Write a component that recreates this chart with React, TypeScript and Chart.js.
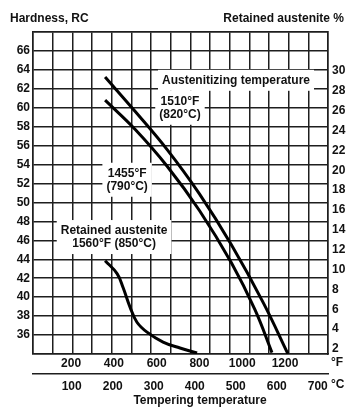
import React, { useEffect, useRef } from 'react';
import { Chart, registerables } from 'chart.js';

Chart.register(...registerables);

// Austenitized at 1510°F (820°C): tempering temperature (°F) vs hardness (HRC)
const tempF1510 = [359, 500, 650, 800, 950, 1100, 1214];
const hardness1510 = [63.25, 59.6, 55.55, 50.9, 45.5, 39.35, 34.0];

// Austenitized at 1455°F (790°C)
const tempF1455 = [359, 500, 650, 800, 950, 1060, 1139];
const hardness1455 = [60.8, 57.7, 53.8, 49.15, 43.6, 38.65, 34.15];

// Retained austenite (%) after 1560°F (850°C)
const tempFRetained = [359, 415, 443, 476, 508, 555, 630, 709, 789];
const retainedAustenite = [10.9, 9.6, 8.2, 6.2, 4.7, 3.7, 2.7, 2.1, 1.6];

// Tick labels
const hardnessTicks = [36, 38, 40, 42, 44, 46, 48, 50, 52, 54, 56, 58, 60, 62, 64, 66];
const austeniteTicks = [2, 4, 6, 8, 10, 12, 14, 16, 18, 20, 22, 24, 26, 28, 30];
const fahrenheitTicks = [200, 400, 600, 800, 1000, 1200];
const celsiusTicks = [100, 200, 300, 400, 500, 600, 700];

const annotationLabels = [
  { lines: ['Austenitizing temperature'], tempF: 971, hardness: 62.9 },
  { lines: ['1510°F', '(820°C)'], tempF: 709, hardness: 60.0 },
  { lines: ['1455°F', '(790°C)'], tempF: 462, hardness: 52.4 },
  { lines: ['Retained austenite', '1560°F (850°C)'], tempF: 401, hardness: 46.35 },
];

const FONT = '"Liberation Sans", Arial, Helvetica, sans-serif';
const INK = '#111111';
const GRID = '#1e1e1e';

const pts = (xs: number[], ys: number[]) => xs.map((x, i) => ({ x, y: ys[i] }));

const textPlugin = {
  id: 'textPlugin',
  afterDatasetsDraw(chart: any) {
    const ctx = chart.ctx as CanvasRenderingContext2D;
    const xs = chart.scales.x;
    const ys = chart.scales.y;
    ctx.save();
    ctx.font = `bold 12px ${FONT}`;
    ctx.textBaseline = 'middle';
    ctx.textAlign = 'center';
    const lh = 13;
    for (const a of annotationLabels) {
      const cx = xs.getPixelForValue(a.tempF);
      const cy = ys.getPixelForValue(a.hardness);
      const w = Math.max(...a.lines.map((l) => ctx.measureText(l).width));
      const h = a.lines.length * lh;
      ctx.fillStyle = '#ffffff';
      ctx.fillRect(cx - w / 2 - 4, cy - h / 2 - 4, w + 8, h + 8);
      ctx.fillStyle = INK;
      a.lines.forEach((l, i) => {
        ctx.fillText(l, cx, cy - h / 2 + lh / 2 + i * lh);
      });
    }
    ctx.restore();
  },
  afterDraw(chart: any) {
    const ctx = chart.ctx as CanvasRenderingContext2D;
    ctx.save();
    ctx.font = `bold 12px ${FONT}`;
    ctx.fillStyle = INK;
    ctx.textBaseline = 'middle';
    ctx.textAlign = 'left';
    ctx.fillText('Hardness, RC', 10, 19);
    ctx.textAlign = 'right';
    ctx.fillText('Retained austenite %', 344, 19);
    ctx.textAlign = 'left';
    const xF = chart.scales.x;
    const xC = chart.scales.x2;
    ctx.fillText('°F', 331, xF.top + 9);
    ctx.fillText('°C', 331, xC.top + 11);
    ctx.textAlign = 'center';
    ctx.fillText('Tempering temperature', 200, 401);
    ctx.restore();
  },
};

export default function App() {
  const ref = useRef<HTMLCanvasElement | null>(null);

  useEffect(() => {
    if (!ref.current) return;
    Chart.defaults.font.family = FONT;
    const lineStyle = {
      borderColor: '#000000',
      borderWidth: 3,
      pointRadius: 0,
      fill: false,
      tension: 0.4,
      borderCapStyle: 'butt' as const,
    };
    const chart = new Chart(ref.current, {
      type: 'line',
      data: {
        datasets: [
          { label: '1510°F (820°C)', data: pts(tempF1510, hardness1510), xAxisID: 'x', yAxisID: 'y', ...lineStyle },
          { label: '1455°F (790°C)', data: pts(tempF1455, hardness1455), xAxisID: 'x', yAxisID: 'y', ...lineStyle },
          { label: 'Retained austenite', data: pts(tempFRetained, retainedAustenite), xAxisID: 'x', yAxisID: 'y2', ...lineStyle },
        ],
      },
      options: {
        animation: false,
        responsive: false,
        layout: { padding: { top: 32, left: 0, right: 0, bottom: 0 } },
        plugins: { legend: { display: false }, tooltip: { enabled: false } },
        scales: {
          xg: {
            type: 'linear',
            position: 'top',
            min: 0,
            max: 15,
            ticks: { display: false, stepSize: 1 },
            grid: { color: GRID, lineWidth: 1.5, drawTicks: false },
            border: { display: true, color: GRID, width: 1.5 },
            afterFit: (s: any) => { s.height = 0; },
          },
          x: {
            type: 'linear',
            position: 'bottom',
            min: 22,
            max: 1401,
            afterBuildTicks: (s: any) => { s.ticks = fahrenheitTicks.map((v) => ({ value: v })); },
            ticks: { color: INK, font: { size: 12, weight: 'bold' }, padding: 2, maxRotation: 0, autoSkip: false, callback: (v: any) => String(v) },
            grid: { display: false, drawTicks: false },
            border: { display: true, color: GRID, width: 1.5 },
            afterFit: (s: any) => { s.height = 20; },
          },
          x2: {
            type: 'linear',
            position: 'bottom',
            min: 5.6,
            max: 725,
            afterBuildTicks: (s: any) => { s.ticks = celsiusTicks.map((v) => ({ value: v })); },
            ticks: { color: INK, font: { size: 12, weight: 'bold' }, padding: 5, maxRotation: 0, autoSkip: false, callback: (v: any) => String(v) },
            grid: { display: false, drawTicks: false },
            border: { display: true, color: GRID, width: 1.5 },
            afterFit: (s: any) => { s.height = 33; },
          },
          y: {
            type: 'linear',
            position: 'left',
            min: 34,
            max: 68,
            ticks: {
              stepSize: 2,
              color: INK,
              font: { size: 12, weight: 'bold' },
              padding: 3,
              callback: (v: any) => (hardnessTicks.includes(Number(v)) ? String(v) : ''),
            },
            grid: { color: GRID, lineWidth: 1.5, drawTicks: false },
            border: { display: true, color: GRID, width: 1.5 },
            afterFit: (s: any) => { s.width = 33; },
          },
          y2: {
            type: 'linear',
            position: 'right',
            min: 1.5,
            max: 33.93,
            afterBuildTicks: (s: any) => { s.ticks = austeniteTicks.map((v) => ({ value: v })); },
            ticks: { color: INK, font: { size: 12, weight: 'bold' }, padding: 4, autoSkip: false, callback: (v: any) => String(v) },
            grid: { drawOnChartArea: false, drawTicks: false },
            border: { display: true, color: GRID, width: 1.5 },
            afterFit: (s: any) => { s.width = 18; },
          },
        },
      } as any,
      plugins: [textPlugin],
    });
    return () => chart.destroy();
  }, []);

  return (
    <div style={{ position: 'absolute', left: 0, top: 0, width: 346, height: 407, background: '#ffffff' }}>
      <canvas ref={ref} width={346} height={407} style={{ display: 'block' }} />
    </div>
  );
}
